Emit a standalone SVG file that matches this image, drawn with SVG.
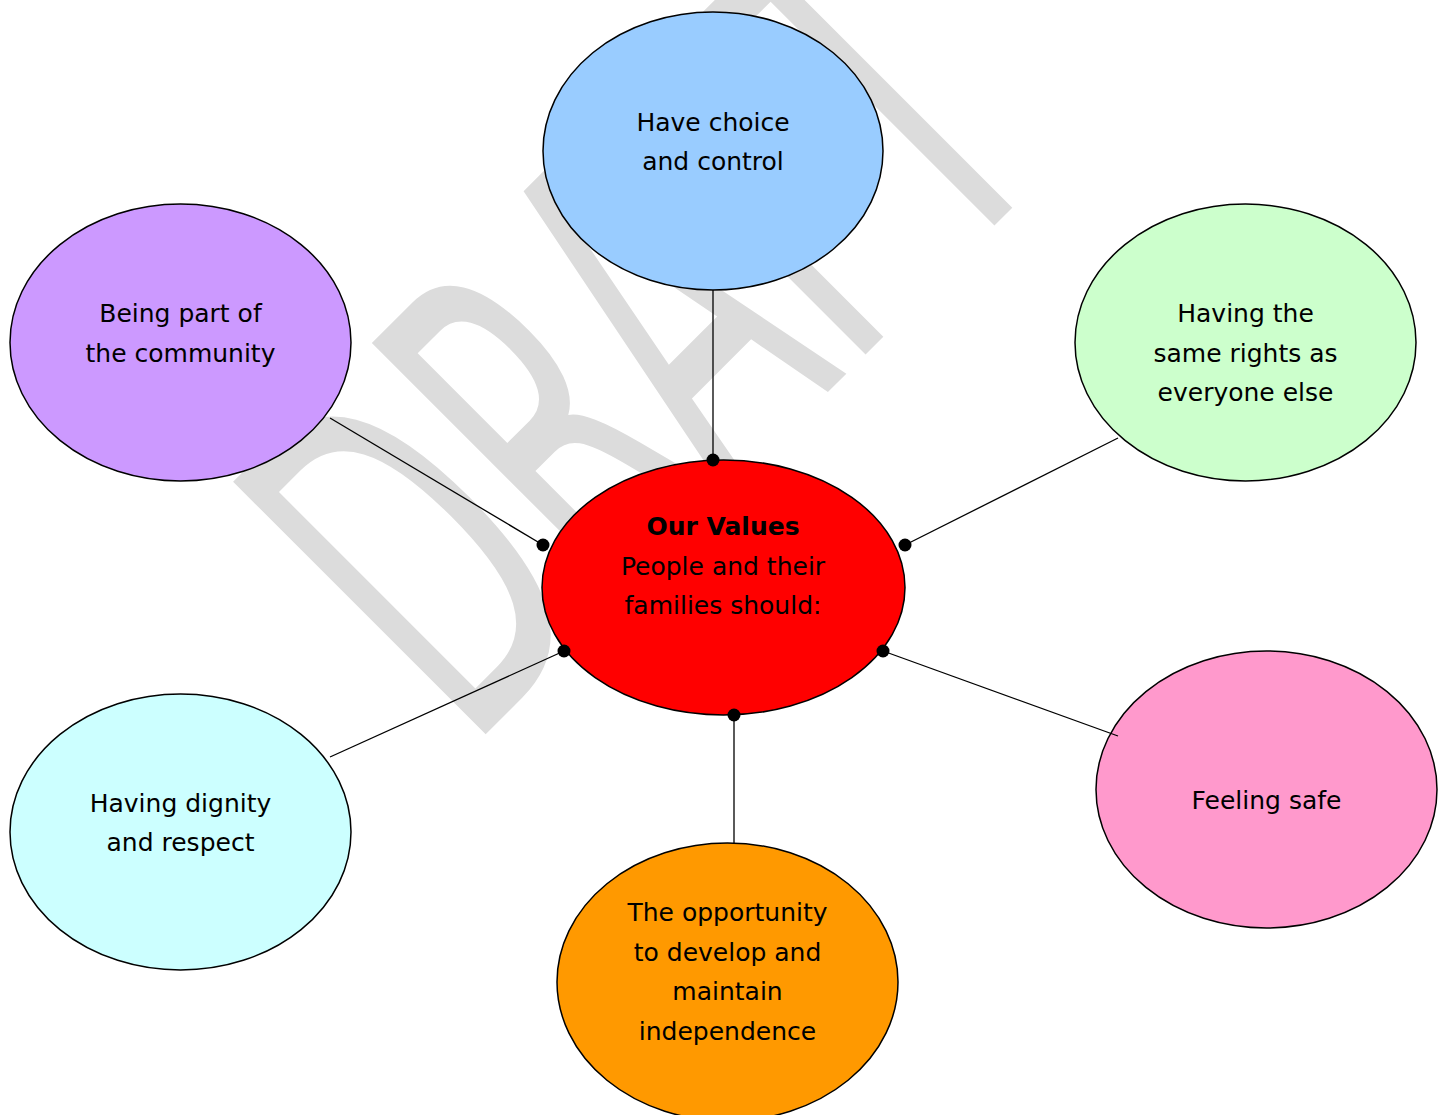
<svg xmlns="http://www.w3.org/2000/svg" width="1445" height="1115" viewBox="0 0 1445 1115">
<style>
.node ellipse{stroke:#000;stroke-width:1.5}
.lbl{font-family:"DejaVu Sans","Liberation Sans",sans-serif;font-size:25px;fill:#000;text-anchor:middle}
.b{font-weight:bold}
.conn line{stroke:#000;stroke-width:1.3}
.conn circle{fill:#000}
.wm{font-family:"DejaVu Sans","Liberation Sans",sans-serif;font-size:490px;fill:#dcdcdc}
</style>
<rect width="1445" height="1115" fill="#fff"/>
<g id="watermark">
<text class="wm" transform="translate(468,752) rotate(-45) scale(0.52,1)">DRAFT</text>
</g>
<g class="node" id="n-choice">
<ellipse cx="713" cy="151" rx="170" ry="139" fill="#99ccff"/>
<text class="lbl" x="713" y="131">Have choice</text>
<text class="lbl" x="713" y="170">and control</text>
</g>
<g class="node" id="n-community">
<ellipse cx="180.5" cy="342.5" rx="170.5" ry="138.5" fill="#cc99ff"/>
<text class="lbl" x="180.5" y="322">Being part of</text>
<text class="lbl" x="180.5" y="362">the community</text>
</g>
<g class="node" id="n-rights">
<ellipse cx="1245.5" cy="342.5" rx="170.5" ry="138.5" fill="#ccffcc"/>
<text class="lbl" x="1245.5" y="322">Having the</text>
<text class="lbl" x="1245.5" y="362">same rights as</text>
<text class="lbl" x="1245.5" y="401">everyone else</text>
</g>
<g class="node" id="n-values">
<ellipse cx="723.5" cy="587.5" rx="181.5" ry="127.5" fill="#ff0000"/>
<text class="lbl b" x="723" y="535">Our Values</text>
<text class="lbl" x="723" y="575">People and their</text>
<text class="lbl" x="723" y="614">families should:</text>
</g>
<g class="node" id="n-dignity">
<ellipse cx="180.5" cy="832" rx="170.5" ry="138" fill="#ccffff"/>
<text class="lbl" x="180.5" y="812">Having dignity</text>
<text class="lbl" x="180.5" y="851">and respect</text>
</g>
<g class="node" id="n-independence">
<ellipse cx="727.5" cy="982" rx="170.5" ry="139" fill="#ff9900"/>
<text class="lbl" x="727.5" y="921">The opportunity</text>
<text class="lbl" x="727.5" y="961">to develop and</text>
<text class="lbl" x="727.5" y="1000">maintain</text>
<text class="lbl" x="727.5" y="1040">independence</text>
</g>
<g class="node" id="n-safe">
<ellipse cx="1266.5" cy="789.5" rx="170.5" ry="138.5" fill="#ff99cc"/>
<text class="lbl" x="1266.5" y="809">Feeling safe</text>
</g>
<g class="conn" id="connectors">
<line x1="713" y1="290" x2="713" y2="460"/><circle cx="713" cy="460" r="6.5"/>
<line x1="330" y1="418" x2="543" y2="545"/><circle cx="543" cy="545" r="6.5"/>
<line x1="1118" y1="438" x2="905" y2="545"/><circle cx="905" cy="545" r="6.5"/>
<line x1="330" y1="757" x2="564" y2="651"/><circle cx="564" cy="651" r="6.5"/>
<line x1="1118" y1="736" x2="883" y2="651"/><circle cx="883" cy="651" r="6.5"/>
<line x1="734" y1="843" x2="734" y2="715"/><circle cx="734" cy="715" r="6.5"/>
</g>
</svg>
